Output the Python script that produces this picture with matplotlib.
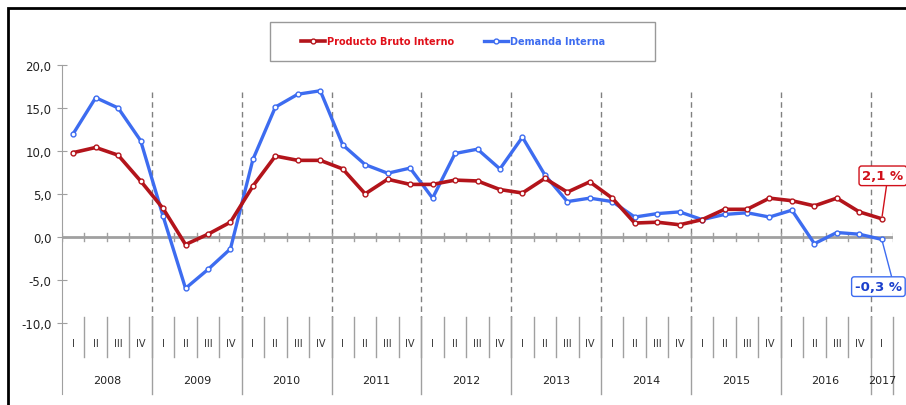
import matplotlib
matplotlib.use("Agg")
from matplotlib import pyplot as plt
from matplotlib.patches import Rectangle
import numpy as np

# Quarterly growth (%), 2008-I to 2017-I
years = ['2008', '2009', '2010', '2011', '2012', '2013', '2014', '2015', '2016', '2017']
quarters = ['I', 'II', 'III', 'IV']
pbi = [9.8, 10.4, 9.5, 6.5,
       3.3, -0.9, 0.3, 1.7,
       5.9, 9.4, 8.9, 8.9,
       7.9, 5.0, 6.7, 6.1,
       6.1, 6.6, 6.5, 5.5,
       5.1, 6.8, 5.2, 6.4,
       4.5, 1.6, 1.7, 1.4,
       2.0, 3.2, 3.2, 4.5,
       4.2, 3.6, 4.5, 2.9,
       2.1]
demanda = [12.0, 16.2, 15.0, 11.2,
           2.4, -6.0, -3.8, -1.4,
           9.0, 15.1, 16.6, 17.0,
           10.7, 8.4, 7.4, 8.0,
           4.5, 9.7, 10.2, 7.9,
           11.6, 7.2, 4.1, 4.5,
           4.1, 2.3, 2.7, 2.9,
           2.0, 2.6, 2.8, 2.3,
           3.1, -0.8, 0.5, 0.3,
           -0.3]

red = '#B3141B'
blue = '#3D6CF0'
gray = '#A0A0A0'

n = len(pbi)
x = np.arange(n)
q_labels = [quarters[i % 4] for i in range(n)]

fig = plt.figure(figsize=(9.06, 4.06), dpi=100)
ax = fig.add_axes([62 / 906, 1 - 395 / 406, 831 / 906, 329 / 406])
ax.set_xlim(-0.5, n - 0.5)
ax.set_ylim(-18.3, 20)

# Series
ax.plot(x, pbi, color=red, lw=2.6, marker='o', ms=3.5, mfc='white', mec=red, mew=1, zorder=4,
        label='Producto Bruto Interno')
ax.plot(x, demanda, color=blue, lw=2.4, marker='o', ms=3.5, mfc='white', mec=blue, mew=1, zorder=3,
        label='Demanda Interna')

# Zero line with quarter ticks
ax.plot([-0.5, n - 0.5], [0, 0], color=gray, lw=2, zorder=2)
for b in np.arange(-0.5, n, 1.0):
    ax.plot([b, b], [-0.5, 0.5], color=gray, lw=1, zorder=2)

# Year separators (dashed inside plot, solid in label area)
for b in np.arange(3.5, n - 1, 4.0):
    ax.plot([b, b], [16.9, -9.3], color='#808080', lw=1, ls=(0, (4, 3)), zorder=1)
for b in list(np.arange(3.5, n - 1, 4.0)) + [n - 0.5]:
    ax.plot([b, b], [-9.3, -18.3], color=gray, lw=1, clip_on=False)
for b in np.arange(0.5, n - 1, 1.0):
    ax.plot([b, b], [-9.3, -14.0], color=gray, lw=1, clip_on=False)

# Category labels
for i in range(n):
    ax.text(x[i], -12.4, q_labels[i], ha='center', va='center', fontsize=7, color='#333333')
for k, yr in enumerate(years):
    cnt = min(4, n - 4 * k)
    ax.text(4 * k + (cnt - 1) / 2, -16.7, yr, ha='center', va='center', fontsize=8, color='#222222')

# Axes styling
for s in ['top', 'right', 'bottom']:
    ax.spines[s].set_visible(False)
ax.spines['left'].set_color(gray)
ax.set_xticks([])
ax.set_yticks([-10, -5, 0, 5, 10, 15, 20])
ax.set_yticklabels([('%.1f' % v).replace('.', ',') for v in [-10, -5, 0, 5, 10, 15, 20]])
ax.tick_params(axis='y', direction='inout', length=7, color=gray, labelsize=8.5, labelcolor='#222222', pad=4)

# Callouts
ax.annotate('2,1 %', xy=(x[-1], pbi[-1]), xytext=(36.05, 7.1), ha='center', va='center',
            fontsize=9.5, fontweight='bold', color='#D0101A',
            bbox=dict(boxstyle='round,pad=0.25,rounding_size=0.2', fc='white', ec='#D0101A', lw=1),
            arrowprops=dict(arrowstyle='-', color='#D0101A', lw=1, shrinkA=0, shrinkB=2, relpos=(0.6, 0)),
            annotation_clip=False, zorder=6)
ax.annotate('-0,3 %', xy=(x[-1], demanda[-1]), xytext=(35.85, -5.8), ha='center', va='center',
            fontsize=9.5, fontweight='bold', color='#1A3FCC',
            bbox=dict(boxstyle='round,pad=0.25,rounding_size=0.2', fc='white', ec=blue, lw=1),
            arrowprops=dict(arrowstyle='-', color=blue, lw=1, shrinkA=0, shrinkB=2, relpos=(0.8, 1)),
            annotation_clip=False, zorder=6)

# Legend
fig.patches.append(Rectangle((270 / 906, 1 - 62 / 406), 385 / 906, 39 / 406, transform=fig.transFigure,
                             fill=False, ec='#999999', lw=1))
leg = fig.legend(loc='center', bbox_to_anchor=(0.5, 1 - 42 / 406), ncol=2, frameon=False,
                 prop=dict(size=7, weight='bold'), columnspacing=3, handlelength=2.5, handletextpad=0.2)
for t, c in zip(leg.get_texts(), ['#E0101A', blue]):
    t.set_color(c)

# Outer frame (cut at right and bottom edges)
fig.patches.append(Rectangle((8 / 906, -20 / 406), 920 / 906, 417 / 406, transform=fig.transFigure,
                             fill=False, ec='black', lw=2))

fig.savefig('out.png', dpi=100)
